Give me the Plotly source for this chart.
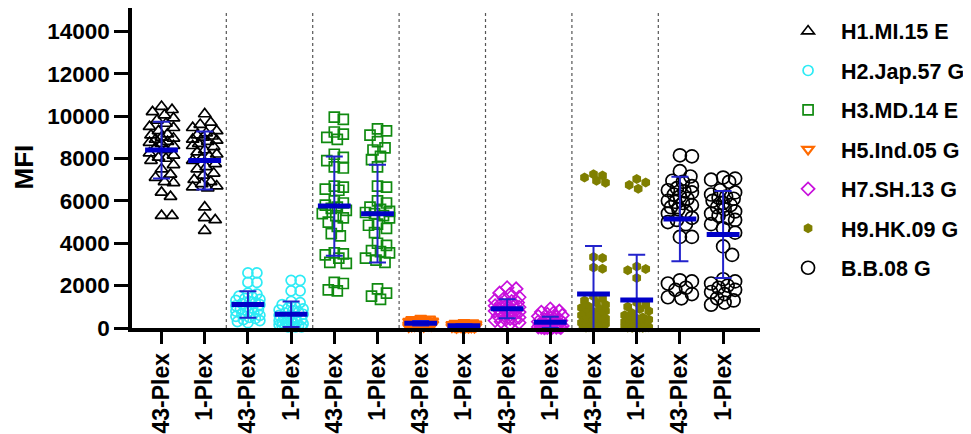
import math
import numpy as np
import plotly.graph_objects as go

# ---------------- data ----------------
categories = ["43-Plex", "1-Plex"] * 7
antigens = ["H1.MI.15 E", "H2.Jap.57 G", "H3.MD.14 E", "H5.Ind.05 G",
            "H7.SH.13 G", "H9.HK.09 G", "B.B.08 G"]

h1_43 = [10450, 10300, 10200, 10050, 9900, 9800, 9650, 9500, 9450, 9300,
         9150, 9100, 9000, 8950, 8900, 8800, 8750, 8700, 8600, 8500,
         8400, 8250, 8150, 8050, 8000, 7900, 7700, 7500, 7250, 7100,
         6900, 6850, 6400, 6200, 5300, 5300]
h1_1 = [10100, 9700, 9600, 9450, 9300, 9200, 9100, 9050, 9000, 8900, 8850,
        8800, 8700, 8600, 8550, 8400, 8300, 8200, 8100, 8000, 7900, 7750,
        7600, 7500, 7300, 7200, 7000, 6900, 6800, 6700, 6650, 6600,
        5700, 5200, 5100, 4600]
h2_43 = [2600, 2600, 2150, 2150, 1650, 1600, 1500, 1450, 1400, 1350, 1300,
         1250, 1200, 1150, 1100, 1050, 1000, 950, 900, 850, 800, 750, 700,
         650, 600, 550, 500, 450, 400, 350, 300, 250]
h2_1 = [2250, 2250, 1750, 1750, 1250, 1200, 1100, 1000, 950, 900, 850, 800,
        750, 700, 650, 600, 550, 500, 450, 400, 350, 300, 300, 250, 250, 200,
        200, 150, 150, 120, 100, 100, 80, 50, 50, 50]
h3_43 = [9950, 9850, 9250, 9150, 9000, 8900, 8200, 8050, 7900, 7600, 7550,
         6700, 6650, 6550, 6500, 6000, 5900, 5800, 5700, 5650, 5550, 5400,
         5300, 5200, 5000, 4800, 4450, 4350, 3550, 3500, 3450, 3300, 3100,
         3050, 2150, 2100, 1800, 1750]
h3_1 = [9400, 9300, 9100, 8800, 8500, 8400, 8100, 7950, 7600, 6700, 6650,
        6000, 5900, 5700, 5600, 5500, 5450, 5400, 5300, 5200, 4900, 4850,
        4700, 4500, 4000, 3900, 3650, 3600, 3550, 3300, 3200, 3100, 1850,
        1650, 1500, 1350]
h5_43 = [450, 420, 400, 380, 350, 330, 310, 300, 290, 280, 270, 260, 250,
         240, 230, 220, 210, 200, 190, 180, 170, 160, 150, 140, 130, 120,
         110, 100, 90, 80, 60, 50]
h5_1 = [260, 240, 220, 200, 190, 180, 160, 150, 140, 130, 120, 110, 100, 95,
        90, 85, 80, 75, 70, 65, 60, 55, 50, 45, 40, 35, 30, 30, 25, 20]
h7_43 = [1900, 1850, 1650, 1600, 1450, 1400, 1300, 1250, 1200, 1150, 1100,
         1050, 1000, 980, 950, 920, 900, 870, 850, 820, 800, 770, 750, 700,
         650, 600, 550, 500, 450, 400, 400, 350, 300, 250, 200]
h7_1 = [900, 800, 750, 700, 650, 600, 550, 500, 450, 400, 350, 300, 280, 250,
        220, 200, 180, 160, 140, 120, 100, 90, 80, 70, 60, 50, 40, 35, 30,
        30, 25, 20, 15, 10]
h9_43 = [7250, 7200, 7100, 6950, 6850, 3350, 3300, 2850, 2800, 1500, 1400,
         1300, 1200, 1100, 1000, 950, 900, 800, 750, 700, 650, 600, 550, 500,
         450, 400, 350, 300, 250, 200, 180, 150, 120, 100, 80, 60, 50, 40,
         30, 20]
h9_1 = [7030, 6870, 6750, 6575, 2905, 2785, 2720, 2360, 1200, 1100, 1000,
        900, 800, 700, 600, 500, 450, 400, 350, 300, 250, 200, 180, 150, 120,
        100, 80, 60, 50, 40, 30, 20, 20, 15, 10, 10]
bb_43 = [8150, 8100, 7400, 7150, 6950, 6900, 6700, 6600, 6500, 6450, 6400,
         6300, 6200, 6100, 6000, 5950, 5900, 5800, 5700, 5600, 5500, 5400,
         5200, 5100, 5000, 4900, 4300, 4300, 2250, 2200, 2100, 1900, 1800,
         1600, 1450, 1400]
bb_1 = [7100, 7050, 7000, 6900, 6500, 6400, 6300, 6200, 6150, 6100, 6000,
        5900, 5800, 5700, 5600, 5500, 5400, 5300, 5200, 5100, 4900, 4700,
        4500, 3850, 3450, 2300, 2200, 2100, 2000, 1900, 1800, 1700, 1600,
        1400, 1300, 1200, 1100]

groups = [(h1_43, h1_1), (h2_43, h2_1), (h3_43, h3_1), (h5_43, h5_1),
          (h7_43, h7_1), (h9_43, h9_1), (bb_43, bb_1)]

# ---------------- styles ----------------
styles = [
    dict(symbol="triangle-up-open", color="black", size=11, lw=1.7),
    dict(symbol="circle-open", color="#2EEBF5", size=10, lw=1.7),
    dict(symbol="square-open", color="#108A10", size=10, lw=1.7),
    dict(symbol="triangle-down-open", color="#FF6A00", size=10, lw=2.2),
    dict(symbol="diamond-open", color="#C810DC", size=10, lw=1.7),
    dict(symbol="hexagon", color="#7F7F00", size=10, lw=0),
    dict(symbol="circle-open", color="black", size=13, lw=1.7),
]

# the page body adds an 8px offset, so the figure is sized/offset to match
W, H = 963, 426
ML, MR, MT, MB = 124, 211, 0, 106
plot_w = W - ML - MR
plot_h = H - MT - MB
XR = [-0.683, -0.683 + plot_w / 43.2]
YR = [0, plot_h / 0.02119]
px_x = plot_w / (XR[1] - XR[0])
px_y = plot_h / (YR[1] - YR[0])


def swarm(vals, size, maxoff):
    """Deterministic beeswarm offsets (in category units)."""
    order = sorted(range(len(vals)), key=lambda i: -vals[i])
    cands = [0.0]
    k = 1
    step = 1.5
    while k * step <= maxoff:
        cands += [k * step, -k * step]
        k += 1
    placed = []
    offs = [0.0] * len(vals)
    for i in order:
        yp = vals[i] * px_y
        best, bestd = 0.0, -1
        for c in cands:
            d = min((math.hypot(c - a, yp - b) for a, b in placed), default=1e9)
            if d >= size * 0.9:
                best = c
                break
            if d > bestd:
                bestd, best = d, c
        placed.append((best, yp))
        offs[i] = best / px_x
    return offs


fig = go.Figure()
mean_x, mean_y, sd_x, sd_y, sd_e = [], [], [], [], []
for gi, (name, pair, st) in enumerate(zip(antigens, groups, styles)):
    xs, ys = [], []
    for j, vals in enumerate(pair):
        pos = 2 * gi + j
        offs = swarm(vals, st["size"], 13)
        xs += [pos + o for o in offs]
        ys += list(vals)
        m = float(np.mean(vals))
        s = float(np.std(vals, ddof=1))
        mean_x += [pos - 0.38, pos + 0.38, None]
        mean_y += [m, m, None]
        sd_x.append(pos)
        sd_y.append(m)
        sd_e.append(s)
    marker = dict(symbol=st["symbol"], size=st["size"], color=st["color"],
                  line=dict(width=st["lw"], color=st["color"]))
    fig.add_trace(go.Scatter(x=xs, y=ys, mode="markers", name=name,
                             marker=marker, cliponaxis=False,
                             legendgroup=name))

fig.add_trace(go.Scatter(x=sd_x, y=sd_y, mode="markers", showlegend=False,
                         marker=dict(size=1, color="rgba(0,0,0,0)"),
                         error_y=dict(type="data", array=sd_e, visible=True,
                                      color="#2323CC", thickness=2, width=8.5),
                         hoverinfo="skip"))
fig.add_trace(go.Scatter(x=mean_x, y=mean_y, mode="lines", showlegend=False,
                         line=dict(color="#0000C8", width=5),
                         hoverinfo="skip"))

for k in range(6):
    fig.add_shape(type="line", x0=2 * k + 1.5, x1=2 * k + 1.5, y0=0, y1=15000,
                  xref="x", yref="y", layer="below",
                  line=dict(color="#555555", width=1.2, dash="dot"))

font_family = "Arial, Liberation Sans, sans-serif"
fig.update_layout(
    width=W, height=H,
    margin=dict(l=ML, r=MR, t=MT, b=MB, autoexpand=False),
    plot_bgcolor="white", paper_bgcolor="white",
    font=dict(family=font_family, color="black", size=21, weight="bold"),
    showlegend=True,
    legend=dict(x=1.024, y=0.992, xanchor="left", yanchor="top",
                font=dict(size=21.5, family=font_family, weight="bold"),
                traceorder="grouped", tracegroupgap=8.5, itemwidth=56,
                bgcolor="rgba(0,0,0,0)"),
    xaxis=dict(range=XR, tickvals=list(range(14)), ticktext=categories,
               tickangle=-90, showline=True, linecolor="black", linewidth=3.5,
               ticks="outside", ticklen=12, tickwidth=3, tickcolor="black",
               showgrid=False, zeroline=False, automargin=False,
               tickfont=dict(size=23, family=font_family, weight="bold")),
    yaxis=dict(range=YR, tickvals=list(range(0, 14001, 2000)), tickformat="d",
               showline=True, linecolor="black", linewidth=3.5,
               ticks="outside", ticklen=14, tickwidth=3, tickcolor="black",
               showgrid=False, zeroline=False, automargin=False,
               tickfont=dict(size=22.5, family=font_family, weight="bold")),
    annotations=[dict(text="MFI", xref="paper", yref="paper",
                      x=(15 - ML) / plot_w, y=(plot_h - 159.5) / plot_h,
                      xanchor="center", yanchor="middle", textangle=-90,
                      showarrow=False,
                      font=dict(size=26, family=font_family, weight="bold"))],
)

fig.write_html("out.html")
